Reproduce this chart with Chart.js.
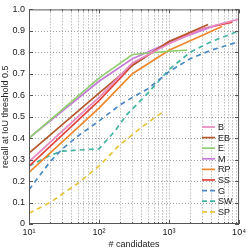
<!DOCTYPE html>
<html><head><meta charset="utf-8">
<script src="https://cdn.jsdelivr.net/npm/chart.js@4/dist/chart.umd.min.js"></script>
<style>html,body{margin:0;padding:0;background:#fff}#wrap{width:249px;height:250px}</style>
</head><body><div id="wrap"><canvas id="c" width="249" height="250"></canvas></div>
<script>
const labels = ['B','EB','E','M','RP','SS','G','SW','SP'];
const colors = ['#e889c0','#b5572a','#8fcf70','#c77bd7','#f0872a','#e4433b','#4a89c4','#3fb4a0','#e8c43a'];
const dashed = [false,false,false,false,false,false,true,true,true];
const xB  = [10,100,300,1000,3000,10000];
const yB  = [0.29,0.59,0.75,0.84,0.91,0.955];
const xEB = [10,100,300,1000,3600];
const yEB = [0.33,0.61,0.74,0.85,0.93];
const xE  = [10,100,300,1000,1800];
const yE  = [0.40,0.68,0.79,0.805,0.81];
const xM  = [10,100,300,1000,5000];
const yM  = [0.40,0.665,0.77,0.845,0.93];
const xRP = [10,100,300,1000,5700];
const yRP = [0.24,0.54,0.70,0.81,0.92];
const xSS = [10,100,300,1000,3000,8000];
const ySS = [0.27,0.575,0.74,0.85,0.91,0.94];
const xG  = [10,20,30,50,100,200,300,500,1000,2000,4000,8000,10000];
const yG  = [0.16,0.29,0.35,0.41,0.48,0.555,0.59,0.63,0.71,0.77,0.81,0.84,0.85];
const xSW = [10,20,30,100,170,250,500,1000,2000,4000,10000];
const ySW = [0.27,0.32,0.34,0.35,0.435,0.51,0.61,0.72,0.80,0.85,0.90];
const xSP = [10,20,50,100,200,400,800];
const ySP = [0.05,0.10,0.19,0.27,0.37,0.45,0.52];
const xTickVals = [10,100,1000,10000];
const xTickLabels = ['10\u00b9','10\u00b2','10\u00b3','10\u2074'];
const xAll = [xB,xEB,xE,xM,xRP,xSS,xG,xSW,xSP];
const yAll = [yB,yEB,yE,yM,yRP,ySS,yG,ySW,ySP];

const FONT = '"Liberation Sans", Arial, sans-serif';
const datasets = labels.map((l,i)=>({
  label:l,
  data:xAll[i].map((x,j)=>({x:x,y:yAll[i][j]})),
  borderColor:colors[i], backgroundColor:colors[i],
  borderWidth:1.7, pointRadius:0, tension:0,
  borderDash: dashed[i]?[5,4]:[]
}));

const frame = {
  id:'frame',
  beforeDatasetsDraw(chart){
    const {ctx, chartArea:a} = chart;
    const xs = chart.scales.x, ys = chart.scales.y;
    ctx.save();
    ctx.beginPath(); ctx.rect(a.left,a.top,a.right-a.left,a.bottom-a.top); ctx.clip();
    ctx.strokeStyle='#a0a0a0'; ctx.lineWidth=1; ctx.setLineDash([1,2]);
    ctx.beginPath();
    xs.ticks.forEach(t=>{const p=Math.round(xs.getPixelForValue(t.value))+0.5;
      if(p<a.left+2||p>a.right-2) return;
      ctx.moveTo(p,a.top); ctx.lineTo(p,a.bottom);});
    ys.ticks.forEach(t=>{const p=Math.round(ys.getPixelForValue(t.value))+0.5;
      if(p<a.top+2||p>a.bottom-2) return;
      ctx.moveTo(a.left,p); ctx.lineTo(a.right,p);});
    ctx.stroke();
    ctx.restore();
  },
  afterDatasetsDraw(chart){
    const {ctx, chartArea:a} = chart;
    ctx.save();
    ctx.strokeStyle='#555'; ctx.lineWidth=1; ctx.setLineDash([]);
    ctx.strokeRect(a.left+0.5,a.top+0.5,a.right-a.left-1,a.bottom-a.top-1);
    const xs = chart.scales.x, ys = chart.scales.y;
    ctx.beginPath();
    xs.ticks.forEach(t=>{const p=Math.round(xs.getPixelForValue(t.value))+0.5;
      const len = xTickVals.includes(t.value)?4:2;
      ctx.moveTo(p,a.bottom); ctx.lineTo(p,a.bottom-len);
      ctx.moveTo(p,a.top); ctx.lineTo(p,a.top+len);});
    ys.ticks.forEach(t=>{const p=Math.round(ys.getPixelForValue(t.value))+0.5;
      ctx.moveTo(a.left,p); ctx.lineTo(a.left+4,p);
      ctx.moveTo(a.right,p); ctx.lineTo(a.right-4,p);});
    ctx.stroke();
    const lx = 202, ly0 = 127, dy = 10.6;
    ctx.font = '9px '+FONT; ctx.textBaseline='middle'; ctx.textAlign='left';
    chart.data.datasets.forEach((d,i)=>{
      const y = ly0 + i*dy;
      ctx.strokeStyle=d.borderColor; ctx.lineWidth=1.7;
      ctx.setLineDash(d.borderDash.length?[5,3]:[]);
      ctx.beginPath(); ctx.moveTo(lx,y); ctx.lineTo(lx+13,y); ctx.stroke();
      ctx.fillStyle='#222'; ctx.fillText(d.label, lx+16, y+0.5);
    });
    ctx.restore();
  }
};

new Chart(document.getElementById('c'),{
  type:'line',
  data:{datasets},
  options:{
    responsive:false, animation:false,
    layout:{padding:{top:8,right:9,left:0,bottom:0}},
    plugins:{legend:{display:false},tooltip:{enabled:false}},
    scales:{
      x:{type:'logarithmic',min:10,max:10000,
        afterBuildTicks(s){const t=[];for(let e=1;e<4;e++){for(let k=1;k<10;k++)t.push({value:k*Math.pow(10,e)});}t.push({value:10000});s.ticks=t;},
        ticks:{autoSkip:false,maxRotation:0,padding:3,color:'#222',font:{family:FONT,size:9},
          callback(v){const i=xTickVals.indexOf(v);return i>=0?xTickLabels[i]:'';}},
        grid:{display:false,drawTicks:false},
        border:{display:false},
        title:{display:true,text:'# candidates',color:'#222',font:{family:FONT,size:9},padding:{top:2,bottom:0}},
        afterFit(s){s.height=26;}
      },
      y:{type:'linear',min:0,max:1,
        ticks:{stepSize:0.1,padding:4,color:'#222',font:{family:FONT,size:9}},
        grid:{display:false,drawTicks:false},
        border:{display:false},
        title:{display:true,text:'recall at IoU threshold 0.5',color:'#222',font:{family:FONT,size:9},padding:{top:0,bottom:2}},
        afterFit(s){s.width=29;}
      }
    }
  },
  plugins:[frame]
});
</script></body></html>
